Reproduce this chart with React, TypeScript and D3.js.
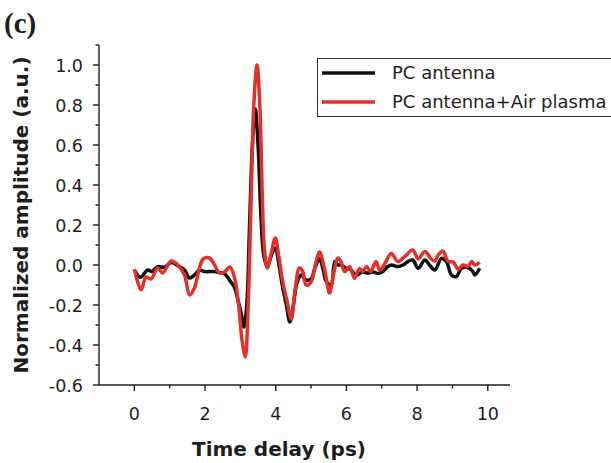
import React from "react";
import * as d3 from "d3";

const blackT = [0.02,0.14,0.2,0.38,0.5,0.66,0.85,1.04,1.27,1.42,1.56,1.7,1.84,1.98,2.12,2.27,2.41,2.55,2.69,2.83,2.93,3.02,3.1,3.18,3.26,3.34,3.42,3.5,3.58,3.66,3.76,3.88,3.99,4.1,4.2,4.3,4.4,4.5,4.6,4.72,4.86,5.0,5.12,5.24,5.35,5.43,5.57,5.67,5.76,5.85,5.99,6.1,6.28,6.45,6.6,6.75,6.89,7.03,7.15,7.27,7.46,7.6,7.74,7.88,8.03,8.22,8.35,8.5,8.69,8.83,8.97,9.11,9.25,9.4,9.58,9.63,9.77];
const blackV = [-0.03,-0.06,-0.06,-0.025,-0.033,-0.008,-0.012,0.012,-0.008,-0.025,-0.065,-0.05,-0.025,-0.033,-0.033,-0.033,-0.038,-0.042,-0.075,-0.11,-0.175,-0.24,-0.31,-0.2,0.2,0.6,0.78,0.6,0.25,0.05,-0.01,0.05,0.085,-0.01,-0.115,-0.2,-0.285,-0.2,-0.09,-0.05,-0.075,-0.07,-0.01,0.033,-0.03,-0.083,-0.1,0.017,0.0,0.0,-0.017,-0.02,-0.05,-0.035,-0.04,-0.035,-0.042,-0.033,-0.01,0.0,-0.008,0.0,0.017,0.025,-0.017,0.025,0.0,-0.025,0.033,0.017,-0.05,-0.058,-0.017,-0.01,-0.033,-0.05,-0.017];

const redT = [0.0,0.19,0.33,0.47,0.66,0.8,1.04,1.23,1.42,1.56,1.7,1.84,1.95,2.12,2.27,2.41,2.55,2.7,2.83,2.95,3.05,3.14,3.22,3.3,3.38,3.47,3.55,3.62,3.68,3.76,3.86,3.99,4.08,4.2,4.32,4.44,4.55,4.67,4.76,4.86,5.0,5.12,5.24,5.38,5.52,5.61,5.76,5.85,5.95,6.09,6.23,6.37,6.46,6.57,6.68,6.84,6.94,7.08,7.27,7.45,7.65,7.88,8.03,8.22,8.4,8.5,8.6,8.73,8.88,9.02,9.16,9.3,9.44,9.54,9.63,9.77];
const redV = [-0.02,-0.125,-0.06,-0.07,-0.015,-0.04,0.02,0.0,-0.05,-0.15,-0.115,-0.015,0.03,0.035,0.0,-0.04,-0.035,-0.01,-0.06,-0.2,-0.38,-0.46,-0.2,0.3,0.8,1.0,0.8,0.35,0.08,-0.015,0.05,0.135,0.05,-0.085,-0.18,-0.27,-0.12,-0.015,-0.03,-0.1,-0.085,0.0,0.065,-0.02,-0.14,-0.07,0.035,0.015,-0.033,-0.008,-0.067,-0.017,-0.033,-0.008,-0.033,0.017,-0.025,0.005,0.058,0.017,0.042,0.075,0.03,0.067,0.03,0.02,0.05,0.07,0.017,0.015,-0.02,0.0,-0.008,0.017,0.0,0.013];

const xTicks = [0, 2, 4, 6, 8, 10];
const xMinor = [1, 3, 5, 7, 9];
const yTicks = [-0.6, -0.4, -0.2, 0.0, 0.2, 0.4, 0.6, 0.8, 1.0];
const yMinor = [-0.5, -0.3, -0.1, 0.1, 0.3, 0.5, 0.7, 0.9, 1.1];
const seriesNames = ["PC antenna", "PC antenna+Air plasma"];

export default function App() {
  const W = 611, H = 463;
  const left = 99, right = 509, top = 45, bottom = 385;
  const x = d3.scaleLinear().domain([-1, 10.6]).range([left, right]);
  const y = d3.scaleLinear().domain([-0.6, 1.1]).range([bottom, top]);
  const line = d3.line<[number, number]>()
    .x((d) => x(d[0]))
    .y((d) => y(d[1]))
    .curve(d3.curveCatmullRom.alpha(0.5));
  const blackPts = blackT.map((t, i) => [t, blackV[i]] as [number, number]);
  const redPts = redT.map((t, i) => [t, redV[i]] as [number, number]);
  const font = "'DejaVu Sans', Arial, sans-serif";
  const red = "#e2312a";
  const ink = "#1e1e1e";
  return (
    <div style={{ position: "fixed", left: 0, top: 0 }}>
      <svg width={W} height={H} style={{ display: "block", background: "#fff" }}>
        <text x={4} y={33} fontFamily="'Liberation Serif', 'Times New Roman', serif" fontWeight="bold" fontSize={29} fill={ink}>(c)</text>
        {/* axes */}
        <line x1={left} x2={left} y1={top} y2={bottom} stroke={ink} strokeWidth={1.4} />
        <line x1={left} x2={right + 1} y1={bottom} y2={bottom} stroke={ink} strokeWidth={1.4} />
        {xTicks.map((t) => (
          <g key={"xt" + t}>
            <line x1={x(t)} x2={x(t)} y1={bottom} y2={bottom + 6} stroke={ink} strokeWidth={1.4} />
            <text x={x(t)} y={420} textAnchor="middle" fontFamily={font} fontSize={17.5} fill={ink}>{t}</text>
          </g>
        ))}
        {xMinor.map((t) => (
          <line key={"xm" + t} x1={x(t)} x2={x(t)} y1={bottom} y2={bottom + 3.5} stroke={ink} strokeWidth={1.4} />
        ))}
        {yTicks.map((v) => (
          <g key={"yt" + v}>
            <line x1={left - 6} x2={left} y1={y(v)} y2={y(v)} stroke={ink} strokeWidth={1.4} />
            <text x={83} y={y(v) + 6.5} textAnchor="end" fontFamily={font} fontSize={17.5} fill={ink}>{v.toFixed(1)}</text>
          </g>
        ))}
        {yMinor.map((v) => (
          <line key={"ym" + v} x1={left - 3.5} x2={left} y1={y(v)} y2={y(v)} stroke={ink} strokeWidth={1.4} />
        ))}
        <text transform={`translate(28,${215}) rotate(-90)`} textAnchor="middle" fontFamily={font} fontWeight="bold" fontSize={20} fill={ink}>Normalized amplitude (a.u.)</text>
        <text x={279} y={456} textAnchor="middle" fontFamily={font} fontWeight="bold" fontSize={20} fill={ink}>Time delay (ps)</text>
        {/* data */}
        <path d={line(blackPts) || ""} fill="none" stroke="#111" strokeWidth={3.5} strokeLinejoin="round" />
        <path d={line(redPts) || ""} fill="none" stroke={red} strokeWidth={3.5} strokeLinejoin="round" />
        {/* legend */}
        <rect x={317.5} y={58.5} width={300} height={58} fill="#fff" stroke="#333" strokeWidth={1} />
        <line x1={322} x2={375} y1={73} y2={73} stroke="#111" strokeWidth={3.5} />
        <line x1={322} x2={375} y1={102} y2={102} stroke={red} strokeWidth={3.5} />
        <text x={392} y={79} fontFamily={font} fontSize={18} fill={ink}>{seriesNames[0]}</text>
        <text x={392} y={108} fontFamily={font} fontSize={18} fill={ink}>{seriesNames[1]}</text>
      </svg>
    </div>
  );
}
